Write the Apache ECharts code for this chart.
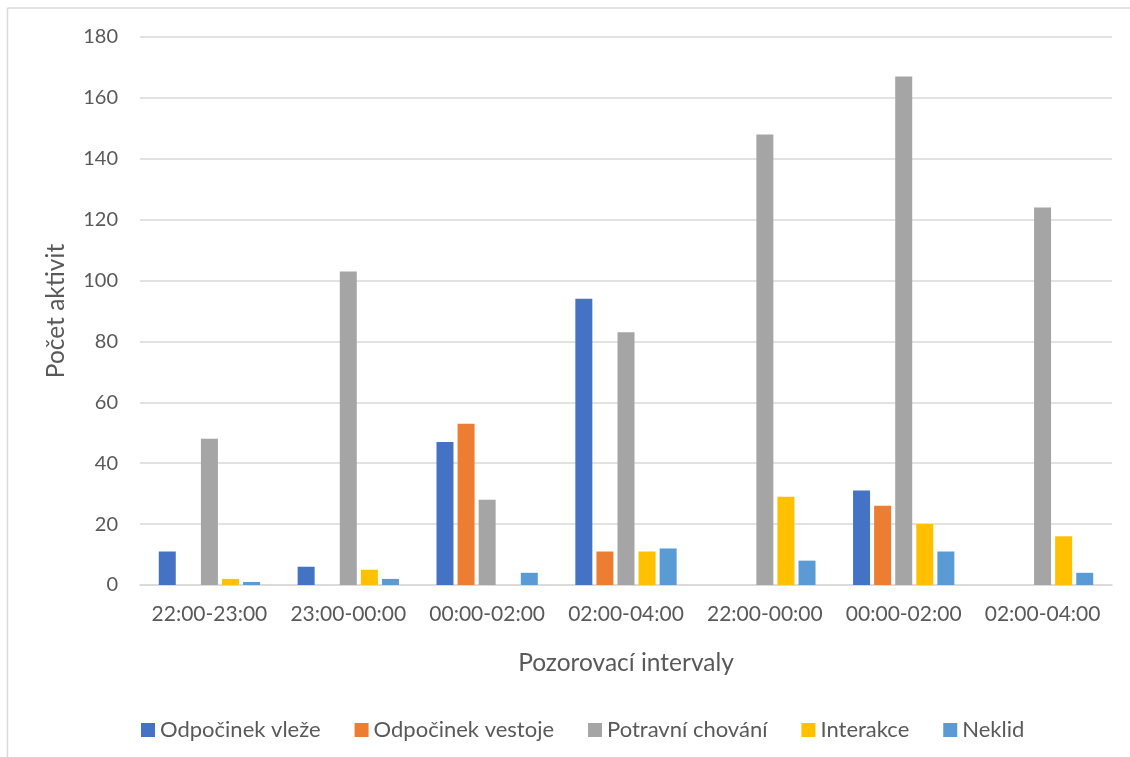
<!DOCTYPE html>
<html>
<head>
<meta charset="utf-8">
<script src="https://cdn.jsdelivr.net/npm/echarts@6/dist/echarts.min.js"></script>
<style>
  html, body { margin: 0; padding: 0; background: #fff; }
  #chart { width: 1130px; height: 757px; }
</style>
</head>
<body>
<div id="chart"></div>
<script>
// Observation intervals (x axis)
const categories = ['22:00-23:00', '23:00-00:00', '00:00-02:00', '02:00-04:00', '22:00-00:00', '00:00-02:00', '02:00-04:00'];

// Activity counts per interval
const odpocinekVleze   = [11, 6, 47, 94, 0, 31, 0];
const odpocinekVestoje = [0, 0, 53, 11, 0, 26, 0];
const potravniChovani  = [48, 103, 28, 83, 148, 167, 124];
const interakce        = [2, 5, 0, 11, 29, 20, 16];
const neklid           = [1, 2, 4, 12, 8, 11, 4];

const seriesNames = ['Odpočinek vleže', 'Odpočinek vestoje', 'Potravní chování', 'Interakce', 'Neklid'];
const seriesData = [odpocinekVleze, odpocinekVestoje, potravniChovani, interakce, neklid];
const colors = ['#4472C4', '#ED7D31', '#A5A5A5', '#FFC000', '#5B9BD5'];

const FONT = 'Lato, "Open Sans", sans-serif';
const TEXT = '#595959';
const GRID = '#d9d9d9';

const chart = echarts.init(document.getElementById('chart'), null, { renderer: 'canvas' });

chart.setOption({
  animation: false,
  backgroundColor: '#ffffff',
  color: colors,
  textStyle: { fontFamily: FONT, color: TEXT },
  graphic: [
    // chart-area frame (left and top edges visible)
    { type: 'line', shape: { x1: 7.5, y1: 8, x2: 7.5, y2: 757 }, style: { stroke: GRID, lineWidth: 1.5 } },
    { type: 'line', shape: { x1: 7.5, y1: 8, x2: 1130, y2: 8 }, style: { stroke: GRID, lineWidth: 1.5 } }
  ],
  grid: { left: 140, right: 18, top: 37, bottom: 172, containLabel: false },
  legend: {
    left: 136,
    top: 714,
    itemWidth: 14,
    itemHeight: 14,
    itemGap: 34,
    icon: 'rect',
    textStyle: { fontFamily: FONT, fontSize: 22, color: TEXT },
    data: seriesNames
  },
  xAxis: {
    type: 'category',
    data: categories,
    name: 'Pozorovací intervaly',
    nameLocation: 'middle',
    nameGap: 66,
    nameTextStyle: { fontFamily: FONT, fontSize: 24.5, color: TEXT },
    axisLine: { show: true, lineStyle: { color: GRID, width: 1.5 } },
    axisTick: { show: false },
    axisLabel: { fontFamily: FONT, fontSize: 21, color: TEXT, margin: 19, interval: 0 }
  },
  yAxis: {
    type: 'value',
    min: 0,
    max: 180,
    interval: 20,
    name: 'Počet aktivit',
    nameLocation: 'middle',
    nameGap: 71,
    nameRotate: 90,
    nameTextStyle: { fontFamily: FONT, fontSize: 24.5, color: TEXT },
    axisLine: { show: false },
    axisTick: { show: false },
    axisLabel: { fontFamily: FONT, fontSize: 20, color: TEXT, margin: 22 },
    splitLine: { lineStyle: { color: GRID, width: 1.5 } }
  },
  series: seriesNames.map((name, i) => ({
    name: name,
    type: 'bar',
    data: seriesData[i],
    barWidth: 17,
    barGap: '24%',
    itemStyle: { color: colors[i] }
  }))
});
</script>
</body>
</html>
